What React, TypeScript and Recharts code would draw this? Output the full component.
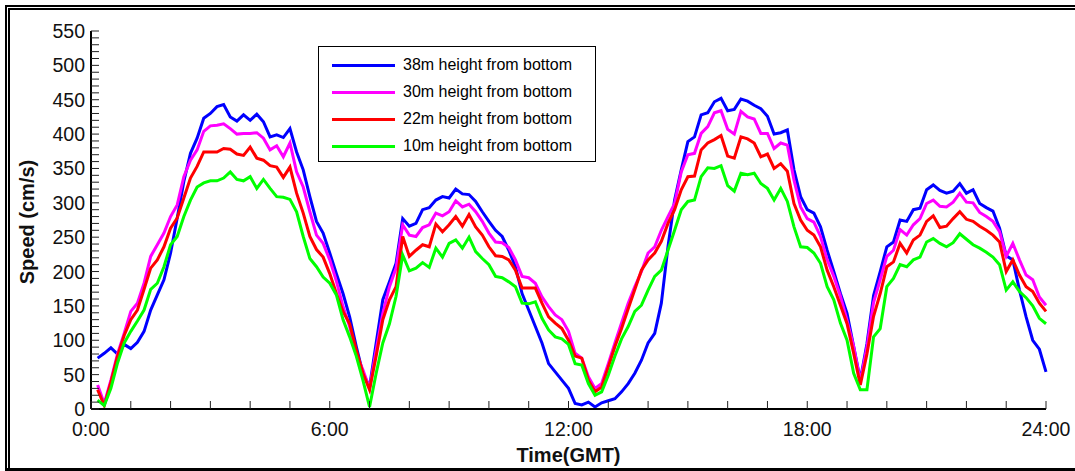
import React from 'react';
import { LineChart, Line, XAxis, YAxis, Legend } from 'recharts';

// speeds (cm/s) every 10 minutes, 0:10 .. 24:00
const H38 = [
  74, 81, 89, 80, 94, 88, 97, 113, 144, 166, 188, 227, 278, 331, 372, 394, 423, 430, 440, 443, 425, 419, 428, 420,
  429, 418, 396, 399, 395, 408, 374, 348, 309, 273, 256, 227, 197, 168, 134, 91, 52, 32, 96, 159, 185, 212, 277, 266,
  270, 290, 293, 304, 309, 307, 320, 313, 312, 302, 287, 273, 260, 251, 231, 207, 168, 144, 120, 96, 66, 54, 42, 30,
  8, 6, 10, 3, 9, 12, 15, 25, 37, 52, 71, 96, 110, 154, 236, 304, 348, 389, 396, 428, 431, 447, 452, 434,
  436, 451, 448, 442, 437, 426, 400, 402, 406, 348, 309, 290, 285, 265, 231, 200, 168, 139, 91, 42, 95, 165, 200, 236,
  243, 275, 273, 290, 292, 319, 326, 318, 314, 317, 328, 314, 319, 299, 293, 288, 263, 223, 217, 173, 134, 100, 87, 54,
];
const H30 = [
  35, 8, 42, 80, 110, 142, 154, 183, 222, 239, 256, 280, 297, 338, 362, 377, 404, 412, 413, 415, 408, 400, 401, 401,
  402, 394, 377, 383, 367, 387, 345, 323, 287, 253, 241, 217, 186, 149, 120, 80, 57, 30, 86, 139, 178, 205, 268, 253,
  251, 264, 268, 285, 281, 287, 303, 294, 298, 287, 273, 256, 243, 242, 235, 217, 193, 191, 183, 163, 149, 137, 130, 113,
  81, 74, 47, 30, 37, 66, 96, 125, 154, 178, 200, 227, 236, 260, 280, 299, 345, 370, 372, 401, 411, 431, 434, 407,
  400, 433, 425, 422, 401, 401, 379, 387, 384, 333, 294, 277, 272, 251, 217, 193, 164, 129, 91, 40, 90, 155, 188, 222,
  231, 261, 253, 268, 277, 299, 304, 295, 294, 301, 314, 301, 300, 286, 280, 273, 258, 222, 241, 217, 195, 188, 163, 151,
];
const H22 = [
  28, 5, 39, 77, 107, 130, 144, 174, 205, 217, 236, 263, 278, 307, 336, 353, 374, 374, 374, 379, 378, 371, 369, 381,
  365, 362, 354, 352, 337, 352, 314, 285, 251, 232, 221, 197, 168, 142, 124, 86, 52, 28, 77, 130, 159, 178, 251, 222,
  231, 239, 236, 269, 258, 268, 280, 266, 283, 265, 253, 236, 223, 222, 217, 202, 176, 176, 176, 154, 134, 125, 117, 100,
  77, 74, 42, 25, 32, 61, 91, 117, 146, 174, 202, 217, 227, 244, 270, 290, 319, 338, 339, 377, 387, 392, 398, 368,
  365, 396, 393, 387, 367, 371, 350, 357, 346, 299, 275, 260, 253, 236, 202, 178, 151, 124, 81, 35, 80, 135, 168, 207,
  214, 241, 227, 246, 253, 273, 281, 264, 266, 277, 287, 276, 273, 266, 260, 253, 243, 200, 217, 195, 178, 171, 154, 142,
];
const H10 = [
  13, 5, 30, 67, 96, 113, 128, 144, 174, 183, 207, 239, 251, 280, 304, 323, 329, 332, 332, 336, 345, 334, 332, 338,
  321, 334, 321, 309, 308, 305, 287, 251, 219, 207, 192, 183, 166, 130, 105, 77, 42, 3, 52, 96, 124, 164, 224, 201,
  205, 213, 206, 234, 221, 241, 246, 234, 250, 229, 219, 210, 193, 191, 185, 178, 154, 153, 156, 132, 115, 105, 102, 94,
  66, 64, 37, 20, 25, 49, 77, 102, 120, 142, 151, 173, 193, 202, 231, 260, 290, 302, 304, 338, 351, 350, 354, 325,
  317, 343, 341, 343, 328, 321, 304, 321, 302, 265, 236, 235, 227, 212, 178, 159, 125, 100, 52, 28, 28, 105, 117, 178,
  190, 210, 207, 217, 221, 243, 248, 241, 236, 242, 255, 247, 239, 234, 228, 221, 210, 173, 185, 171, 162, 150, 132, 124,
];

const TIMES = H38.map((_, i) => (i + 1) * 10); // minutes since 0:00
const X_TICKS = Array.from({ length: 25 }, (_, i) => i * 60);
const Y_TICKS = Array.from({ length: 56 }, (_, i) => i * 10);
const SERIES = [
  { key: 'h38', name: '38m height from bottom', color: '#0000ff', values: H38 },
  { key: 'h30', name: '30m height from bottom', color: '#ff00ff', values: H30 },
  { key: 'h22', name: '22m height from bottom', color: '#ff0000', values: H22 },
  { key: 'h10', name: '10m height from bottom', color: '#00ff00', values: H10 },
];

const data = TIMES.map((t, i) => {
  const row: any = { t };
  SERIES.forEach((s) => (row[s.key] = s.values[i]));
  return row;
});

const FONT = '"Liberation Sans", Arial, sans-serif';
const TICK_LEN = 8;

const BottomTick = ({ x, y, payload }: any) => {
  const v = payload.value;
  return (
    <g>
      <line x1={x} y1={y} x2={x} y2={y - TICK_LEN} stroke="#222" strokeWidth={1} />
      {v % 360 === 0 && (
        <text x={x} y={y + 20} textAnchor="middle" dominantBaseline="central" fontSize={19.5} fontFamily={FONT} fill="#111">
          {`${v / 60}:00`}
        </text>
      )}
    </g>
  );
};

const TopTick = ({ x, y }: any) => <line x1={x} y1={y} x2={x} y2={y + TICK_LEN} stroke="#222" strokeWidth={1} />;

const LeftTick = ({ x, y, payload }: any) => {
  const v = payload.value;
  return (
    <g>
      <line x1={x} y1={y} x2={x + TICK_LEN} y2={y} stroke="#222" strokeWidth={1} />
      {v % 50 === 0 && (
        <text x={x - 6} y={y} textAnchor="end" dominantBaseline="central" fontSize={19.5} fontFamily={FONT} fill="#111">
          {v}
        </text>
      )}
    </g>
  );
};

const RightTick = ({ x, y }: any) => <line x1={x} y1={y} x2={x - TICK_LEN} y2={y} stroke="#222" strokeWidth={1} />;

const renderLegend = ({ payload }: any) => {
  const items = [...(payload || [])].sort(
    (a: any, b: any) =>
      SERIES.findIndex((s) => s.name === a.value) - SERIES.findIndex((s) => s.name === b.value),
  );
  return (
    <div
      style={{
        width: 278,
        height: 116,
        boxSizing: 'border-box',
        border: '1px solid #000',
        background: '#fff',
        position: 'relative',
        fontFamily: FONT,
      }}
    >
      {items.map((p: any, i: number) => (
        <div key={p.value} style={{ position: 'absolute', left: 0, top: 18 + i * 27 - 10, height: 20, width: '100%' }}>
          <div style={{ position: 'absolute', left: 13, top: 8.5, width: 63, height: 3, background: p.color }} />
          <div style={{ position: 'absolute', left: 84, top: 0, lineHeight: '20px', fontSize: 16, color: '#000', whiteSpace: 'nowrap' }}>
            {p.value}
          </div>
        </div>
      ))}
    </div>
  );
};

const XTitle = ({ viewBox }: any) => (
  <text
    x={viewBox.x + viewBox.width / 2}
    y={viewBox.y + 46}
    textAnchor="middle"
    dominantBaseline="central"
    fontSize={20}
    fontWeight="bold"
    fontFamily={FONT}
    fill="#111"
  >
    Time(GMT)
  </text>
);

const YTitle = ({ viewBox }: any) => {
  const cx = 27;
  const cy = viewBox.y + viewBox.height / 2 + 2;
  return (
    <text
      x={cx}
      y={cy}
      transform={`rotate(-90 ${cx} ${cy})`}
      textAnchor="middle"
      dominantBaseline="central"
      fontSize={20}
      fontWeight="bold"
      fontFamily={FONT}
      fill="#111"
    >
      Speed (cm/s)
    </text>
  );
};

export default function App() {
  return (
    <div style={{ position: 'absolute', left: 0, top: 0, width: 1075, height: 471, overflow: 'hidden', background: '#fff' }}>
      {/* frame */}
      <div
        style={{
          position: 'absolute',
          left: 5,
          top: 5,
          width: 1200,
          height: 600,
          borderTop: '5px double #000',
          borderLeft: '5px double #000',
        }}
      />
      <div style={{ position: 'absolute', left: 5, top: 468, width: 1200, height: 3, background: '#000' }} />
      <LineChart width={1075} height={471} data={data} margin={{ top: 31, right: 29, left: 31, bottom: 32 }}>
        <XAxis
          xAxisId="b"
          dataKey="t"
          type="number"
          domain={[0, 1440]}
          ticks={X_TICKS}
          interval={0}
          tickSize={0}
          tickMargin={0}
          tickLine={false}
          tick={<BottomTick />}
          height={30}
          axisLine={{ stroke: '#000', strokeWidth: 2 }}
          label={{ content: <XTitle /> }}
        />
        <XAxis
          xAxisId="t"
          orientation="top"
          dataKey="t"
          type="number"
          domain={[0, 1440]}
          ticks={X_TICKS}
          interval={0}
          tickSize={0}
          tickMargin={0}
          tickLine={false}
          tick={<TopTick />}
          height={0}
          axisLine={{ stroke: '#000', strokeWidth: 2 }}
        />
        <YAxis
          yAxisId="l"
          domain={[0, 550]}
          ticks={Y_TICKS}
          interval={0}
          tickSize={0}
          tickMargin={0}
          tickLine={false}
          tick={<LeftTick />}
          width={60}
          axisLine={{ stroke: '#000', strokeWidth: 2 }}
          label={{ content: <YTitle /> }}
        />
        <YAxis
          yAxisId="r"
          orientation="right"
          domain={[0, 550]}
          ticks={Y_TICKS}
          interval={0}
          tickSize={0}
          tickMargin={0}
          tickLine={false}
          tick={<RightTick />}
          width={0}
          axisLine={{ stroke: '#000', strokeWidth: 2 }}
        />
        <Legend
          layout="vertical"
          align="center"
          verticalAlign="middle"
          wrapperStyle={{ left: 318, top: 46, width: 278, height: 116 }}
          content={renderLegend}
        />
        {SERIES.map((s) => (
          <Line
            key={s.key}
            xAxisId="b"
            yAxisId="l"
            type="linear"
            dataKey={s.key}
            name={s.name}
            stroke={s.color}
            strokeWidth={3}
            dot={false}
            isAnimationActive={false}
          />
        ))}
      </LineChart>
    </div>
  );
}
